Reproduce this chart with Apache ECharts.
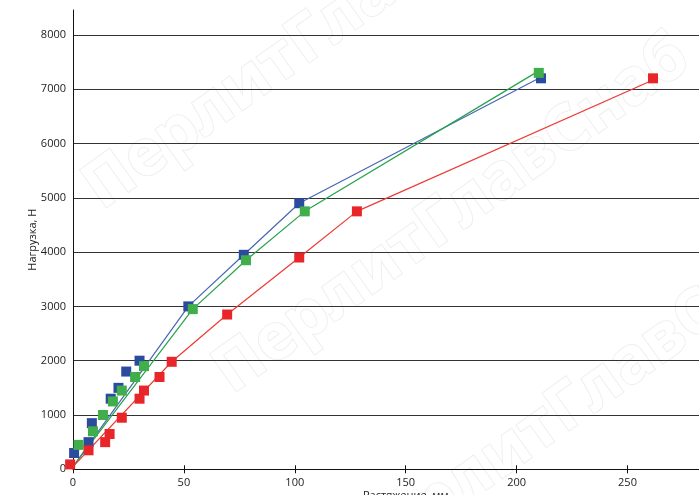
<!DOCTYPE html>
<html>
<head>
<meta charset="utf-8">
<script src="https://cdn.jsdelivr.net/npm/echarts@6/dist/echarts.min.js"></script>
<style>
  html, body { margin: 0; padding: 0; background: #fff; }
  #chart { width: 699px; height: 495px; }
</style>
</head>
<body>
<div id="chart"></div>
<script>
// markers
const blueX = [0.5, 7, 8.5, 17, 20.5, 24, 30, 52, 77, 102, 211];
const blueY = [300, 500, 850, 1300, 1500, 1800, 2000, 3000, 3950, 4900, 7200];
const greenX = [2.5, 9, 13.5, 18, 22, 28, 32, 54, 78, 104.5, 210];
const greenY = [450, 700, 1000, 1250, 1450, 1700, 1900, 2950, 3850, 4750, 7300];
const redX = [-1.3, 7, 14.5, 16.5, 22, 30, 32, 39, 44.5, 69.5, 102, 128, 261.5];
const redY = [90, 350, 500, 650, 950, 1300, 1450, 1700, 1980, 2850, 3900, 4750, 7200];

// polyline vertices (lines do not pass through every marker)
const blueLineX = [0, 52, 77, 102, 210.5];
const blueLineY = [50, 3000, 3950, 4900, 7210];
const greenLineX = [0, 54, 78, 104.5, 208.5];
const greenLineY = [50, 2950, 3850, 4750, 7300];
const redLineX = [0, 44.5, 69.5, 102, 128, 260];
const redLineY = [50, 1980, 2850, 3900, 4750, 7140];

const xTicks = [0, 50, 100, 150, 200, 250, 300];
const yTicks = [0, 1000, 2000, 3000, 4000, 5000, 6000, 7000, 8000];

const xName = 'Растяжение, мм';
const yName = 'Нагрузка, Н';
const watermark = 'ПерлитГлавСнаб';

const pairs = (xs, ys) => xs.map((x, i) => [x, ys[i]]);

const font = '"Open Sans", "Noto Sans", sans-serif';
const myChart = echarts.init(document.getElementById('chart'), null, { renderer: 'canvas' });

const wmStyle = (x, y) => ({
	type: 'text',
	x: x,
	y: y,
	rotation: 0.62,
	z: -10,
	silent: true,
	style: {
		text: watermark,
		font: 'bold 64px ' + font,
		fill: '#ffffff',
		stroke: '#efefef',
		lineWidth: 2,
		align: 'center',
		verticalAlign: 'middle',
	},
});

const option = {
	animation: false,
	backgroundColor: '#fff',
	graphic: [wmStyle(322, 31), wmStyle(452, 215), wmStyle(582, 399)],
	grid: {
		left: 73,
		top: 10,
		width: 665.4,
		height: 459.3,
		containLabel: false,
		outerBoundsMode: 'none',
	},
	xAxis: [
		{
			type: 'value',
			min: xTicks[0],
			max: xTicks[xTicks.length - 1],
			interval: 50,
			name: xName,
			nameLocation: 'middle',
			nameGap: 21,
			nameMoveOverlap: false,
			nameTextStyle: { color: '#222', fontSize: 11, fontFamily: font },
			axisLine: { show: true, lineStyle: { color: '#111', width: 1.2 } },
			axisTick: { show: true, length: 4, lineStyle: { color: '#111' } },
			axisLabel: { color: '#222', fontSize: 11, fontFamily: font, margin: 8, formatter: (v) => String(v) },
			splitLine: { show: false },
		},
		{
			// second copy only to draw the upper half of each tick
			type: 'value',
			min: xTicks[0],
			max: xTicks[xTicks.length - 1],
			interval: 50,
			position: 'bottom',
			axisLine: { show: false },
			axisTick: { show: true, inside: true, length: 4, lineStyle: { color: '#111' } },
			axisLabel: { show: false },
			splitLine: { show: false },
		},
	],
	yAxis: {
		type: 'value',
		min: yTicks[0],
		max: 8458,
		interval: 1000,
		name: yName,
		nameLocation: 'middle',
		nameGap: 35,
		nameMoveOverlap: false,
		nameTextStyle: { color: '#222', fontSize: 11, fontFamily: font },
		axisLine: { show: true, lineStyle: { color: '#111', width: 1 } },
		axisTick: { show: false },
		axisLabel: { color: '#222', fontSize: 11, fontFamily: font, margin: 7, showMaxLabel: false, formatter: (v) => String(v) },
		splitLine: { show: true, showMaxLine: false, lineStyle: { color: '#333', width: 1.2 } },
	},
	series: [
		{ type: 'line', data: pairs(blueLineX, blueLineY), showSymbol: false, lineStyle: { color: '#4866b4', width: 1.2 }, z: 3, clip: false },
		{ type: 'line', data: pairs(greenLineX, greenLineY), showSymbol: false, lineStyle: { color: '#24a24c', width: 1.2 }, z: 3, clip: false },
		{ type: 'line', data: pairs(redLineX, redLineY), showSymbol: false, lineStyle: { color: '#ec3a34', width: 1.2 }, z: 3, clip: false },
		{ type: 'scatter', data: pairs(blueX, blueY), symbol: 'rect', symbolSize: 10, itemStyle: { color: '#2b4b9e', opacity: 1 }, z: 4, clip: false },
		{ type: 'scatter', data: pairs(greenX, greenY), symbol: 'rect', symbolSize: 10, itemStyle: { color: '#3fae4b', opacity: 1 }, z: 4, clip: false },
		{ type: 'scatter', data: pairs(redX, redY), symbol: 'rect', symbolSize: 10, itemStyle: { color: '#e8262a', opacity: 1 }, z: 5, clip: false },
	],
};

option && myChart.setOption(option);
</script>
</body>
</html>
